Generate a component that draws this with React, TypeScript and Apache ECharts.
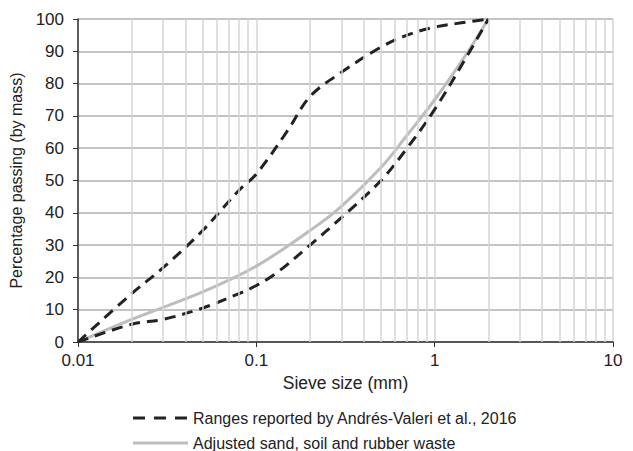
import React, { useEffect, useRef } from "react";
import * as echarts from "echarts";

const xTickLabels = ["0.01", "0.1", "1", "10"];
const yTicks = [0, 10, 20, 30, 40, 50, 60, 70, 80, 90, 100];
const minorGrid = [
  0.02, 0.03, 0.04, 0.05, 0.06, 0.07, 0.08, 0.09,
  0.2, 0.3, 0.4, 0.5, 0.6, 0.7, 0.8, 0.9,
  2, 3, 4, 5, 6, 7, 8, 9,
];

const seriesNames = [
  "Ranges reported by Andrés-Valeri et al., 2016",
  "Adjusted sand, soil and rubber waste",
];

const upperRange: [number, number][] = [
  [0.01, 0], [0.02, 15], [0.03, 23], [0.05, 34.5], [0.08, 47], [0.1, 52],
  [0.15, 65.5], [0.2, 76], [0.3, 83.5], [0.5, 91.3], [0.7, 95],
  [1, 97.5], [1.5, 99], [2, 100],
];

const lowerRange: [number, number][] = [
  [0.01, 0], [0.02, 5.5], [0.03, 7], [0.05, 10.5], [0.08, 15], [0.1, 17.5],
  [0.13, 21.4], [0.2, 30], [0.3, 38.5], [0.5, 50], [0.7, 60], [1, 72],
  [1.5, 88], [2, 100],
];

const adjusted: [number, number][] = [
  [0.01, 0], [0.02, 7], [0.05, 15.5], [0.1, 23.5], [0.2, 34.5], [0.3, 42],
  [0.5, 54], [0.7, 64], [1, 75], [1.5, 89], [2, 100],
];

const FONT = "Liberation Sans, Arial, sans-serif";
const DARK = "#222";
const GRAY = "#bdbdbd";

export default function App() {
  const ref = useRef<HTMLDivElement>(null);
  useEffect(() => {
    if (!ref.current) return;
    const chart = echarts.init(ref.current, undefined, { renderer: "svg" });
    const dashStyle = { color: DARK, width: 3, type: [11, 7] as any };
    const grayStyle = { color: GRAY, width: 3, type: "solid" as any };
    chart.setOption({
      animation: false,
      backgroundColor: "#fff",
      textStyle: { fontFamily: FONT },
      grid: { left: 78, right: 20, top: 19, bottom: 109 },
      graphic: [
        {
          type: "line",
          shape: { x1: 133, y1: 418, x2: 188, y2: 418 },
          style: { stroke: DARK, lineWidth: 3, lineDash: [12, 9] },
        },
        {
          type: "text",
          x: 193,
          y: 418,
          style: {
            text: seriesNames[0],
            fill: DARK,
            font: `16px ${FONT}`,
            verticalAlign: "middle",
            align: "left",
          },
        },
        {
          type: "line",
          shape: { x1: 133, y1: 443, x2: 188, y2: 443 },
          style: { stroke: GRAY, lineWidth: 3 },
        },
        {
          type: "text",
          x: 193,
          y: 443,
          style: {
            text: seriesNames[1],
            fill: DARK,
            font: `16px ${FONT}`,
            verticalAlign: "middle",
            align: "left",
          },
        },
      ],
      xAxis: {
        type: "log",
        logBase: 10,
        min: 0.01,
        max: 10,
        name: "Sieve size (mm)",
        nameLocation: "middle",
        nameGap: 32,
        nameTextStyle: { fontSize: 17.5, color: DARK, fontFamily: FONT },
        axisLine: { show: true, onZero: false, lineStyle: { color: "#333", width: 1.5 } },
        axisTick: { show: true, inside: false, length: 5, lineStyle: { color: "#333" } },
        axisLabel: {
          fontSize: 17,
          color: DARK,
          margin: 10,
          fontFamily: FONT,
          formatter: (v: number) => {
            const i = Math.round(Math.log10(v)) + 2;
            return xTickLabels[i] ?? String(v);
          },
        },
        splitLine: { show: true, lineStyle: { color: "#d4d4d4", width: 1.5 } },
      },
      yAxis: {
        type: "value",
        min: yTicks[0],
        max: yTicks[yTicks.length - 1],
        interval: 10,
        name: "Percentage passing (by mass)",
        nameLocation: "middle",
        nameGap: 42,
        nameTextStyle: { fontSize: 16, color: DARK, fontFamily: FONT },
        axisLine: { show: true, lineStyle: { color: "#333", width: 1.5 } },
        axisTick: { show: true, inside: false, length: 5, lineStyle: { color: "#333" } },
        axisLabel: { fontSize: 17, color: DARK, margin: 14, fontFamily: FONT },
        splitLine: { show: true, lineStyle: { color: "#b0b0b0", width: 1.5 } },
      },
      series: [
        {
          name: "grid-minor",
          type: "line",
          data: [],
          z: 1,
          silent: true,
          markLine: {
            silent: true,
            symbol: ["none", "none"],
            label: { show: false },
            lineStyle: { color: "#d4d4d4", width: 1.5, type: "solid" },
            data: minorGrid.map((x) => ({ xAxis: x })),
          },
        },
        {
          name: seriesNames[0],
          type: "line",
          data: upperRange,
          showSymbol: false,
          symbol: "none",
          smooth: 0.35,
          lineStyle: dashStyle,
          z: 3,
        },
        {
          name: "lower",
          type: "line",
          data: lowerRange,
          showSymbol: false,
          symbol: "none",
          smooth: 0.35,
          lineStyle: dashStyle,
          z: 3,
        },
        {
          name: seriesNames[1],
          type: "line",
          data: adjusted,
          showSymbol: false,
          symbol: "none",
          smooth: 0.35,
          lineStyle: grayStyle,
          z: 2,
        },
      ],
    });
    return () => chart.dispose();
  }, []);
  return (
    <div
      ref={ref}
      style={{ position: "fixed", left: 0, top: 0, width: 633, height: 451 }}
    />
  );
}
